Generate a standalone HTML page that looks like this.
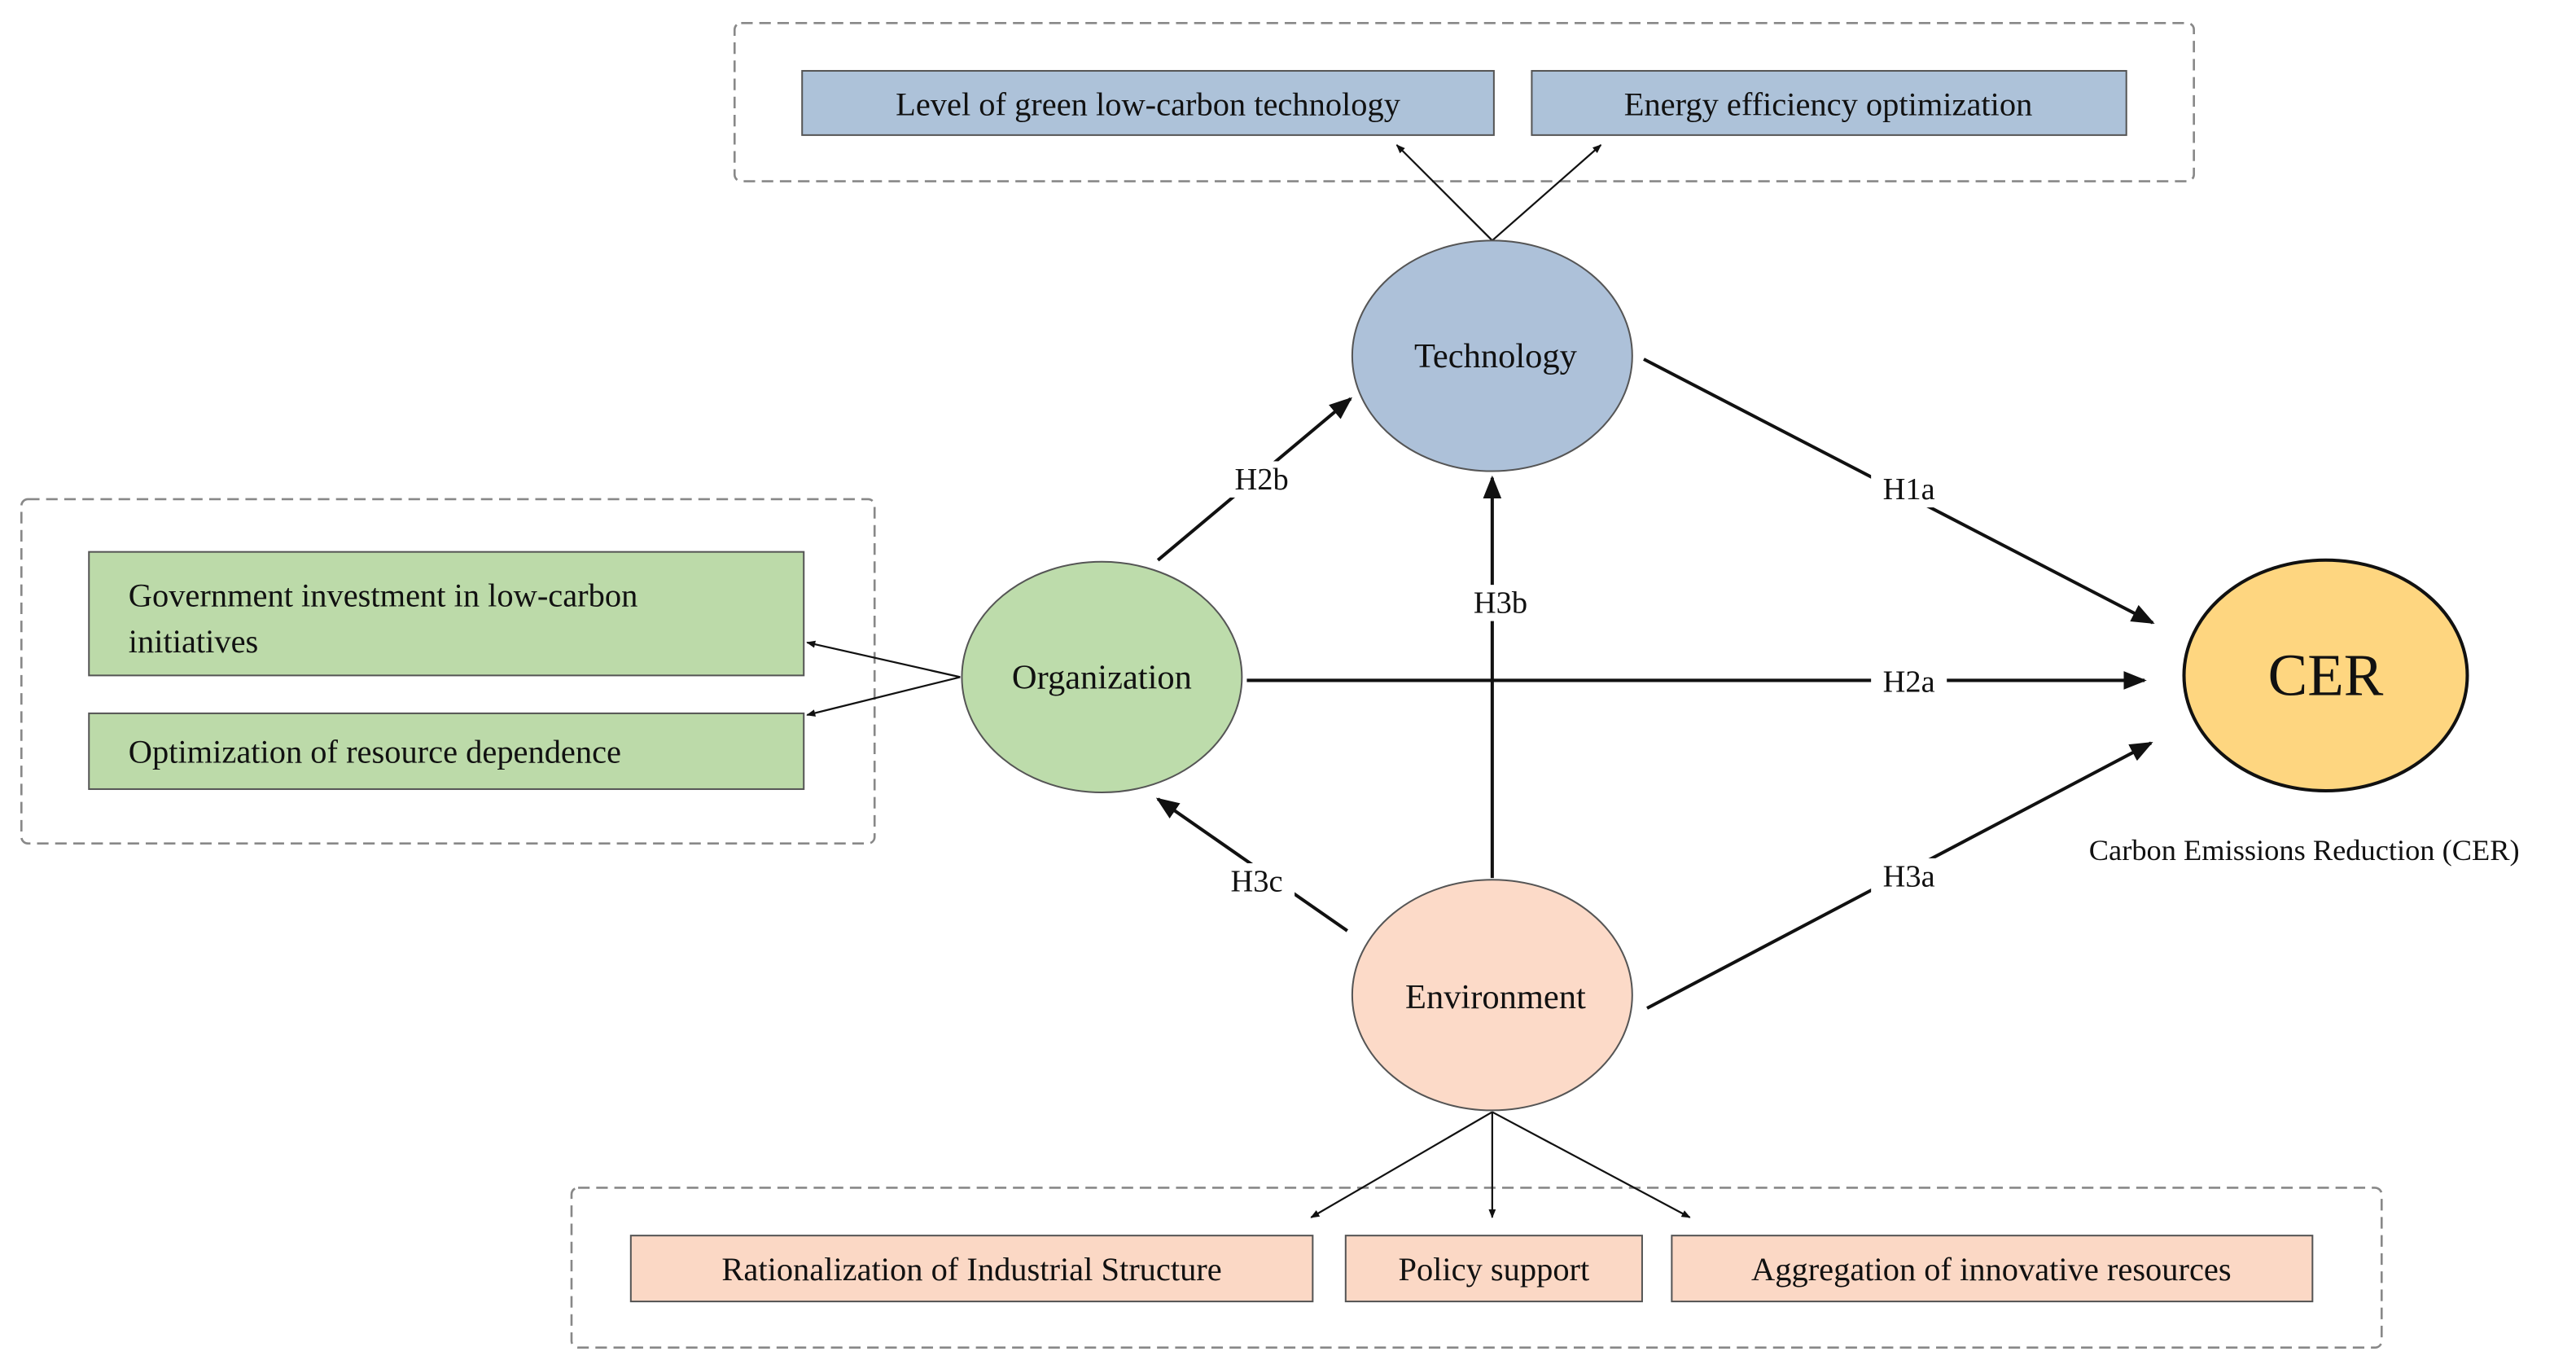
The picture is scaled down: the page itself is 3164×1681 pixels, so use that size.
<!DOCTYPE html>
<html><head><meta charset="utf-8"><style>
html,body{margin:0;padding:0;background:#fff;width:3164px;height:1681px;overflow:hidden}
svg{display:block}
text{font-family:"Liberation Serif",serif;fill:#111}
</style></head><body>
<svg width="3164" height="1681" viewBox="0 0 1564 831" preserveAspectRatio="none" xmlns="http://www.w3.org/2000/svg">
<defs>
<marker id="a" viewBox="0 0 10 10" refX="9" refY="5" markerWidth="7" markerHeight="7" orient="auto"><path d="M0,1 L10,5 L0,9 z" fill="#111"/></marker>
<marker id="s" viewBox="0 0 10 10" refX="9" refY="5" markerWidth="5" markerHeight="5" orient="auto"><path d="M0,1 L10,5 L0,9 z" fill="#111"/></marker>
</defs>
<g fill="none" stroke="#888" stroke-width="1.3" stroke-dasharray="7,4">
<rect x="446" y="14" width="886" height="96" rx="4"/>
<rect x="13" y="303" width="518" height="209" rx="4"/>
<rect x="347" y="721" width="1099" height="97" rx="4"/>
</g>
<g stroke="#555" stroke-width="1">
<rect x="487" y="43" width="420" height="39" fill="#adc2d9"/>
<rect x="930" y="43" width="361" height="39" fill="#adc2d9"/>
<rect x="54" y="335" width="434" height="75" fill="#bcdaa9"/>
<rect x="54" y="433" width="434" height="46" fill="#bcdaa9"/>
<rect x="383" y="750" width="414" height="40" fill="#fbd8c5"/>
<rect x="817" y="750" width="180" height="40" fill="#fbd8c5"/>
<rect x="1015" y="750" width="389" height="40" fill="#fbd8c5"/>
</g>
<g font-size="20">
<text x="697" y="70" text-anchor="middle">Level of green low-carbon technology</text>
<text x="1110" y="70" text-anchor="middle">Energy efficiency optimization</text>
<text x="78" y="368">Government investment in low-carbon</text>
<text x="78" y="396">initiatives</text>
<text x="78" y="463">Optimization of resource dependence</text>
<text x="590" y="777" text-anchor="middle">Rationalization of Industrial Structure</text>
<text x="907" y="777" text-anchor="middle">Policy support</text>
<text x="1209" y="777" text-anchor="middle">Aggregation of innovative resources</text>
</g>
<g stroke="#111" stroke-width="1.1" fill="none">
<line x1="906" y1="146" x2="848" y2="88" marker-end="url(#s)"/>
<line x1="906" y1="146" x2="972" y2="88" marker-end="url(#s)"/>
<line x1="583" y1="411" x2="490" y2="390" marker-end="url(#s)"/>
<line x1="583" y1="411" x2="490" y2="434" marker-end="url(#s)"/>
<line x1="906" y1="675" x2="796" y2="739" marker-end="url(#s)"/>
<line x1="906" y1="675" x2="906" y2="739" marker-end="url(#s)"/>
<line x1="906" y1="675" x2="1026" y2="739" marker-end="url(#s)"/>
</g>
<g stroke="#111" stroke-width="2" fill="none">
<line x1="703" y1="340" x2="820" y2="242" marker-end="url(#a)"/>
<line x1="998" y1="218" x2="1307" y2="378" marker-end="url(#a)"/>
<line x1="757" y1="413" x2="1302" y2="413" marker-end="url(#a)"/>
<line x1="906" y1="533" x2="906" y2="290" marker-end="url(#a)"/>
<line x1="818" y1="565" x2="703" y2="485" marker-end="url(#a)"/>
<line x1="1000" y1="612" x2="1306" y2="451" marker-end="url(#a)"/>
</g>
<g stroke="#555" stroke-width="1">
<ellipse cx="906" cy="216" rx="85" ry="70" fill="#adc1d9"/>
<ellipse cx="669" cy="411" rx="85" ry="70" fill="#bddcab"/>
<ellipse cx="906" cy="604" rx="85" ry="70" fill="#fcdac8"/>
<ellipse cx="1412" cy="410" rx="86" ry="70" fill="#fed680" stroke="#111" stroke-width="2"/>
</g>
<g font-size="21" text-anchor="middle">
<text x="908" y="223">Technology</text>
<text x="669" y="418">Organization</text>
<text x="908" y="612">Environment</text>
<text x="1412" y="422" font-size="36">CER</text>
</g>
<g font-size="19" text-anchor="middle">
<rect x="742" y="280" width="46" height="22" fill="#fff"/><text x="766" y="297">H2b</text>
<rect x="1136" y="286" width="46" height="22" fill="#fff"/><text x="1159" y="303">H1a</text>
<rect x="1136" y="403" width="46" height="22" fill="#fff"/><text x="1159" y="420">H2a</text>
<rect x="888" y="355" width="46" height="22" fill="#fff"/><text x="911" y="372">H3b</text>
<rect x="740" y="524" width="46" height="22" fill="#fff"/><text x="763" y="541">H3c</text>
<rect x="1136" y="521" width="46" height="22" fill="#fff"/><text x="1159" y="538">H3a</text>
<text x="1399" y="522" font-size="18">Carbon Emissions Reduction (CER)</text>
</g>
</svg>
</body></html>
